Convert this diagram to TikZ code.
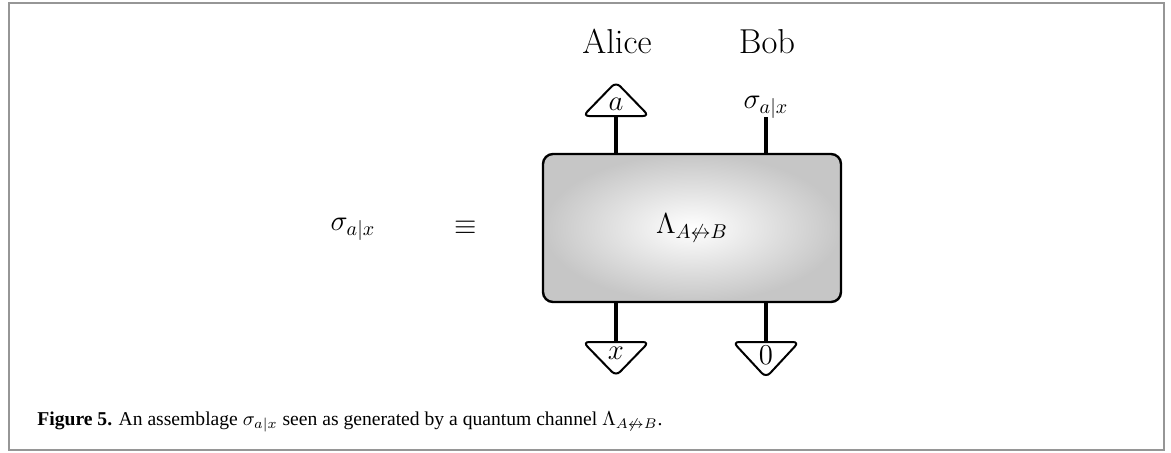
\documentclass[tikz,border=0pt]{standalone}
\usepackage{fontspec}
\usepackage{amsmath}
\usepackage{amssymb}
\usepackage{tikz}
\usepackage{xcolor}
\newfontfamily\qcapfont{Liberation Serif}
\newcommand{\qchanlab}{\Lambda_{A\not\leftrightarrow B}}
\usetikzlibrary{positioning,shapes.geometric}
\definecolor{qframe}{RGB}{150,150,150}
\definecolor{qshade}{RGB}{198,198,198}
\tikzset{
  qchan/.style={draw=black, line width=1.2pt, rounded corners=5pt, shade, inner color=white, outer color=qshade, minimum width=149pt, minimum height=74pt, font=\Large},
  qtri/.style={draw=black, line width=1pt, isosceles triangle, isosceles triangle stretches, minimum width=33pt, minimum height=17pt, inner sep=0pt, rounded corners=3pt, anchor=lower side, font=\Large},
  qtriup/.style={qtri, shape border rotate=90},
  qtridown/.style={qtri, shape border rotate=-90},
  qwire/.style={line width=1.6pt},
  qname/.style={font=\LARGE, anchor=base},
  qlab/.style={font=\Large}
}
\begin{document}
\begin{tikzpicture}[x=.5pt, y=-.5pt]
  \useasboundingbox (0,0) rectangle (1171,452);
  \draw[qframe, line width=1pt] (9,3) rectangle (1164,450);
  \node[qchan] (chan) at (692,228) {$\qchanlab$};
  \node[qlab, anchor=base] (lhs) at (353,230) {$\sigma_{a|x}$};
  \node[qlab] (eqv) at (466,228) {$\equiv$};
  \node[qname] (alice) at (617,53) {Alice};
  \node[qname] (bob) at (767,53) {Bob};
  \node[qtriup] (ta) at (616,117) {$a$};
  \node[qlab, anchor=base] (sig) at (766,108) {$\sigma_{a|x}$};
  \coordinate (sb) at (766,117);
  \node[qtridown] (tx) at (616,341) {$x$};
  \node[qtridown] (t0) at (766,341) {$0$};
  \draw[qwire] (ta.lower side) -- (ta.lower side |- chan.north);
  \draw[qwire] (sb) -- (sb |- chan.north);
  \draw[qwire] (tx.lower side) -- (tx.lower side |- chan.south);
  \draw[qwire] (t0.lower side) -- (t0.lower side |- chan.south);
  \node[anchor=base west, font=\qcapfont\fontsize{9.8}{12}\selectfont, inner sep=0pt] (cap) at (37,425)
    {\textbf{Figure 5.} An assemblage $\sigma_{a|x}$ seen as generated by a quantum channel $\qchanlab$.};
\end{tikzpicture}
\end{document}
